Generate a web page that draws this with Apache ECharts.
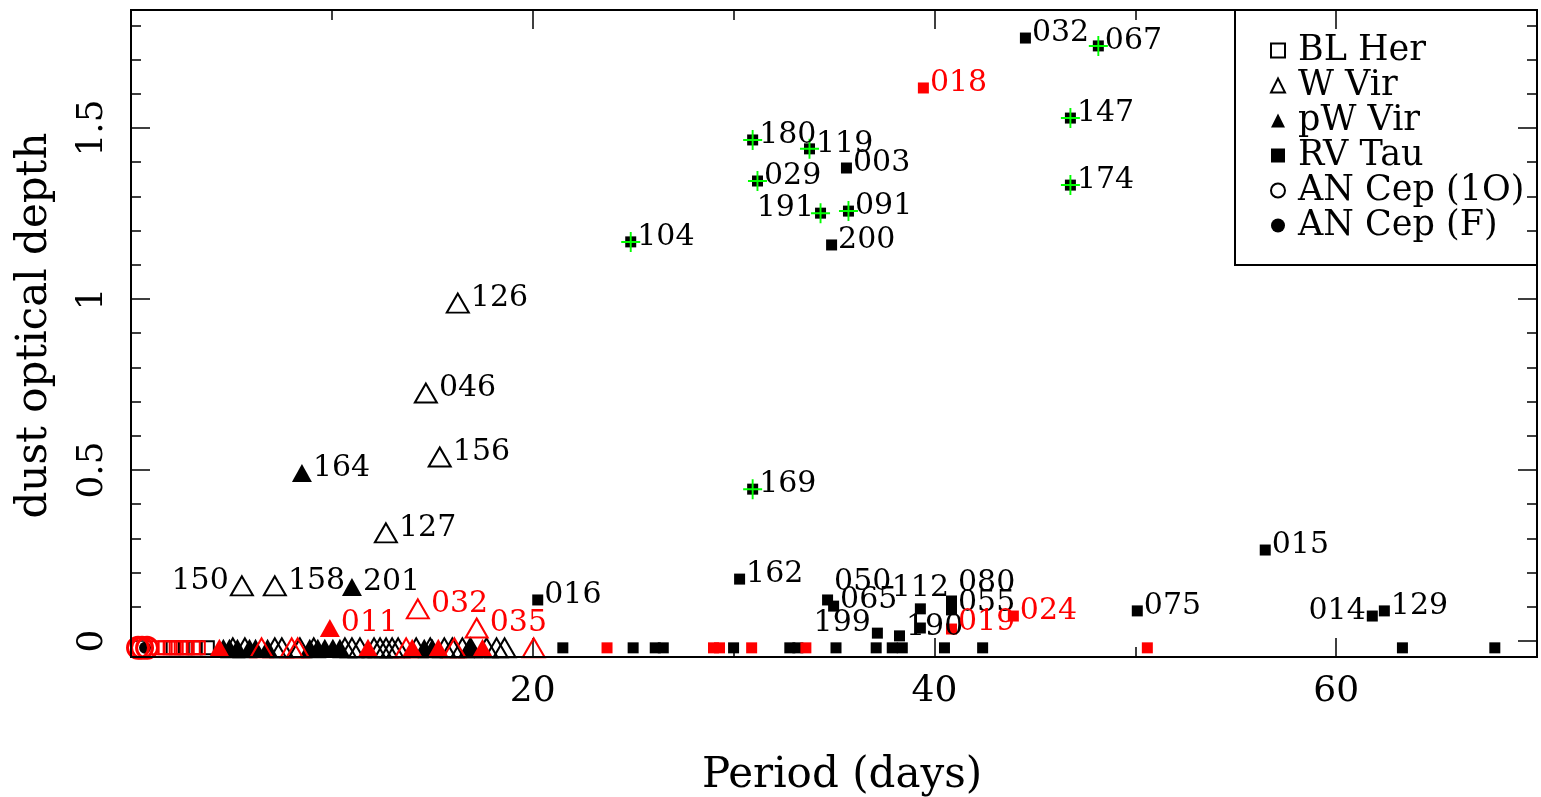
<!DOCTYPE html>
<html>
<head>
<meta charset="utf-8">
<title>dust optical depth vs period</title>
<script src="https://cdn.jsdelivr.net/npm/echarts@6/dist/echarts.min.js"></script>
<style>
    html, body { margin: 0; padding: 0; background: #fff; }
    #chart { width: 1541px; height: 797px; }
</style>
</head>
<body>
<div id="chart"></div>
<script>
// each point: [period (days), dust optical depth, label]
var anCep1OBlack = [];
var anCepFBlack = [[0.7, -0.02, '']];
var anCep1ORed = [[0.35, -0.02, ''], [0.55, -0.02, ''], [0.8, -0.02, '']];

var blHerBlack = [[2.1, -0.02, ''], [2.7, -0.02, ''], [3.2, -0.02, ''], [3.8, -0.02, '']];
var blHerRed = [[1.35, -0.02, ''], [1.7, -0.02, ''], [1.95, -0.02, ''], [2.25, -0.02, ''],
    [2.5, -0.02, ''], [2.8, -0.02, ''], [3.1, -0.02, ''], [3.35, -0.02, '']];

var wVirBlack = [[16.27, 0.988, '126'], [14.68, 0.725, '046'], [15.37, 0.538, '156'],
    [12.69, 0.316, '127'], [5.52, 0.161, '150'], [7.16, 0.161, '158'],
    [5.07, -0.02, ''], [5.67, -0.02, ''], [7.16, -0.02, ''], [7.51, -0.02, ''], [8.41, -0.02, ''],
    [9.1, -0.02, ''], [10.65, -0.02, ''], [11.0, -0.02, ''], [11.4, -0.02, ''], [12.1, -0.02, ''],
    [12.4, -0.02, ''], [12.7, -0.02, ''], [13.0, -0.02, ''], [13.3, -0.02, ''], [14.2, -0.02, ''],
    [14.9, -0.02, ''], [15.6, -0.02, ''], [16.0, -0.02, ''], [16.5, -0.02, ''], [16.9, -0.02, ''],
    [17.7, -0.02, ''], [18.2, -0.02, ''], [18.6, -0.02, '']];
var wVirRed = [[14.28, 0.094, '032'], [17.21, 0.038, '035'],
    [6.5, -0.02, ''], [8.0, -0.02, ''], [8.3, -0.02, ''], [13.7, -0.02, ''], [16.1, -0.02, ''], [20.05, -0.02, '']];

var pWVirBlack = [[8.51, 0.491, '164'], [11.0, 0.158, '201'],
    [4.6, -0.02, ''], [4.9, -0.02, ''], [5.3, -0.02, ''], [5.9, -0.02, ''], [6.2, -0.02, ''],
    [6.8, -0.02, ''], [8.9, -0.02, ''], [9.3, -0.02, ''], [9.65, -0.02, ''], [10.05, -0.02, ''],
    [10.4, -0.02, ''], [14.6, -0.02, ''], [15.0, -0.02, ''], [16.9, -0.02, '']];
var pWVirRed = [[9.9, 0.038, '011'],
    [4.4, -0.02, ''], [11.8, -0.02, ''], [14.0, -0.02, ''], [15.3, -0.02, ''], [17.5, -0.02, '']];

var rvTauBlack = [[44.53, 1.763, '032'], [48.16, 1.740, '067'], [46.77, 1.529, '147'],
    [46.77, 1.333, '174'], [30.95, 1.465, '180'], [33.78, 1.439, '119'], [35.62, 1.383, '003'],
    [31.19, 1.345, '029'], [34.33, 1.251, '191'], [35.72, 1.257, '091'], [34.88, 1.158, '200'],
    [24.88, 1.167, '104'], [30.95, 0.444, '169'], [30.3, 0.181, '162'], [20.25, 0.12, '016'],
    [56.47, 0.266, '015'], [50.1, 0.088, '075'], [61.8, 0.073, '014'], [62.4, 0.088, '129'],
    [34.68, 0.12, '050'], [34.98, 0.102, '065'], [37.16, 0.023, '199'], [38.26, 0.015, '190'],
    [39.3, 0.094, '112'], [40.85, 0.117, '080'], [40.85, 0.091, '055'], [39.3, 0.038, ''],
    [21.5, -0.02, ''], [25.0, -0.02, ''], [26.1, -0.02, ''], [26.5, -0.02, ''], [30.0, -0.02, ''],
    [32.8, -0.02, ''], [33.2, -0.02, ''], [35.1, -0.02, ''], [37.1, -0.02, ''], [37.9, -0.02, ''],
    [38.4, -0.02, ''], [40.5, -0.02, ''], [42.4, -0.02, ''], [63.3, -0.02, ''], [67.9, -0.02, '']];
var rvTauRed = [[39.45, 1.617, '018'], [43.93, 0.073, '024'], [40.85, 0.035, '019'],
    [23.7, -0.02, ''], [29.0, -0.02, ''], [29.3, -0.02, ''], [30.9, -0.02, ''], [33.6, -0.02, ''], [50.6, -0.02, '']];

// stars marked with a green cross
var crossed = ['067', '147', '174', '180', '119', '029', '191', '091', '104', '169'];

var legendNames = ['BL Her', 'W Vir', 'pW Vir', 'RV Tau', 'AN Cep (1O)', 'AN Cep (F)'];

// label placement tweaks
var labelLeft = ['150', '191', '199', '014'];
var labelTop = ['112'];
var labelLift = {'050': -18, '080': -18, '190': -9, '199': -10, '055': -7, '065': -6, '019': -7};

var FONT = 'DejaVu Serif';

function labelFor(name) {
    if (!name) return {show: false};
    var lab = {show: true};
    if (labelLeft.indexOf(name) >= 0) lab.position = 'left';
    if (labelTop.indexOf(name) >= 0) { lab.position = 'top'; lab.offset = [0, 0]; lab.distance = 0; }
    if (labelLift[name] !== undefined) lab.offset = [0, labelLift[name]];
    return lab;
}

function makeSeries(name, pts, symbol, size, color, open, lw) {
    return {
        name: name,
        type: 'scatter',
        symbol: symbol,
        symbolSize: size,
        clip: false,
        xAxisIndex: 0,
        yAxisIndex: 0,
        itemStyle: open ? {color: 'rgba(0,0,0,0)', borderColor: color, borderWidth: lw || 2, opacity: 1}
                        : {color: color, opacity: 1},
        label: {
            show: true, formatter: '{b}', position: 'right', distance: 1, offset: [0, -5],
            color: color, fontFamily: FONT, fontSize: 30
        },
        emphasis: {disabled: true},
        data: pts.map(function (p) {
            return {value: [p[0], p[1]], name: p[2], label: labelFor(p[2])};
        })
    };
}

var crossPts = rvTauBlack.filter(function (p) { return crossed.indexOf(p[2]) >= 0; });

var series = [
    makeSeries('AN Cep (1O)', anCep1OBlack, 'circle', 18, '#000', true),
    makeSeries('AN Cep (F)', anCepFBlack, 'circle', 12, '#000', false),
    makeSeries('BL Her', blHerBlack, 'rect', 13, '#000', true),
    makeSeries('W Vir', wVirBlack, 'triangle', [22, 19], '#000', true),
    makeSeries('pW Vir', pWVirBlack, 'triangle', [20, 18], '#000', false),
    makeSeries('RV Tau', rvTauBlack, 'rect', 11, '#000', false),
    makeSeries('BL Her red', blHerRed, 'rect', 13, '#ff0000', true),
    makeSeries('AN Cep (1O) red', anCep1ORed, 'circle', 21, '#ff0000', true, 3),
    makeSeries('W Vir red', wVirRed, 'triangle', [22, 19], '#ff0000', true),
    makeSeries('pW Vir red', pWVirRed, 'triangle', [20, 18], '#ff0000', false),
    makeSeries('RV Tau red', rvTauRed, 'rect', 11, '#ff0000', false),
    {
        name: 'cross',
        type: 'scatter',
        symbol: 'path://M9,0H11V9H20V11H11V20H9V11H0V9H9Z',
        symbolSize: [19, 20],
        clip: false,
        itemStyle: {color: '#00ff00', opacity: 1},
        emphasis: {disabled: true},
        data: crossPts.map(function (p) { return [p[0], p[1]]; })
    }
];

function xAx(pos, interval, tickLen, showLabel, offset) {
    return {
        type: 'value', position: pos, min: 0, max: 70, interval: interval, offset: offset,
        axisLine: {show: false, onZero: false},
        axisTick: {show: true, inside: true, length: tickLen, lineStyle: {color: '#000', width: 1.5}},
        axisLabel: {show: showLabel, color: '#000', fontFamily: FONT, fontSize: 36, margin: 17,
            showMinLabel: false, showMaxLabel: false},
        splitLine: {show: false}
    };
}

function yAx(pos, interval, tickLen, showLabel) {
    return {
        type: 'value', position: pos, min: 0, max: 1.845, interval: interval,
        axisLine: {show: false, onZero: false},
        axisTick: {show: true, inside: true, length: tickLen, lineStyle: {color: '#000', width: 1.5}},
        axisLabel: {show: showLabel, rotate: 90, color: '#000', fontFamily: FONT, fontSize: 36,
            margin: 20, showMaxLabel: false},
        splitLine: {show: false}
    };
}

var xAxes = [xAx('bottom', 20, 19, true, 16), xAx('bottom', 10, 10, false, 16),
    xAx('top', 20, 19, false, 0), xAx('top', 10, 10, false, 0)];
xAxes[0].name = 'Period (days)';
xAxes[0].nameLocation = 'middle';
xAxes[0].nameGap = 98;
xAxes[0].nameTextStyle = {color: '#000', fontFamily: FONT, fontSize: 42, padding: [0, 0, 0, 16]};

var yAxes = [yAx('left', 0.5, 19, true), yAx('left', 0.1, 10, false),
    yAx('right', 0.5, 19, false), yAx('right', 0.1, 10, false)];
yAxes[0].name = 'dust optical depth';
yAxes[0].nameLocation = 'middle';
yAxes[0].nameGap = 75;
yAxes[0].nameTextStyle = {color: '#000', fontFamily: FONT, fontSize: 42};

var myChart = echarts.init(document.getElementById('chart'));
var option = {
    animation: false,
    backgroundColor: '#fff',
    grid: {left: 131, right: 4, top: 10, bottom: 156, containLabel: false, outerBoundsMode: 'none'},
    xAxis: xAxes,
    yAxis: yAxes,
    legend: {
        data: legendNames,
        orient: 'vertical',
        left: 1270,
        top: 33,
        padding: 0,
        itemGap: 0,
        itemWidth: 14,
        itemHeight: 14,
        selectedMode: false,
        textStyle: {color: '#000', fontFamily: FONT, fontSize: 35, lineHeight: 34.5, padding: [0, 0, 0, 8]}
    },
    graphic: [
        // plot frame
        {type: 'rect', silent: true, z: 100, shape: {x: 131, y: 10, width: 1406, height: 647},
            style: {fill: 'none', stroke: '#000', lineWidth: 2}},
        // legend box
        {type: 'rect', silent: true, z: 100, shape: {x: 1235, y: 10, width: 302, height: 255},
            style: {fill: 'none', stroke: '#000', lineWidth: 2}}
    ],
    series: series
};
myChart.setOption(option);
</script>
</body>
</html>
